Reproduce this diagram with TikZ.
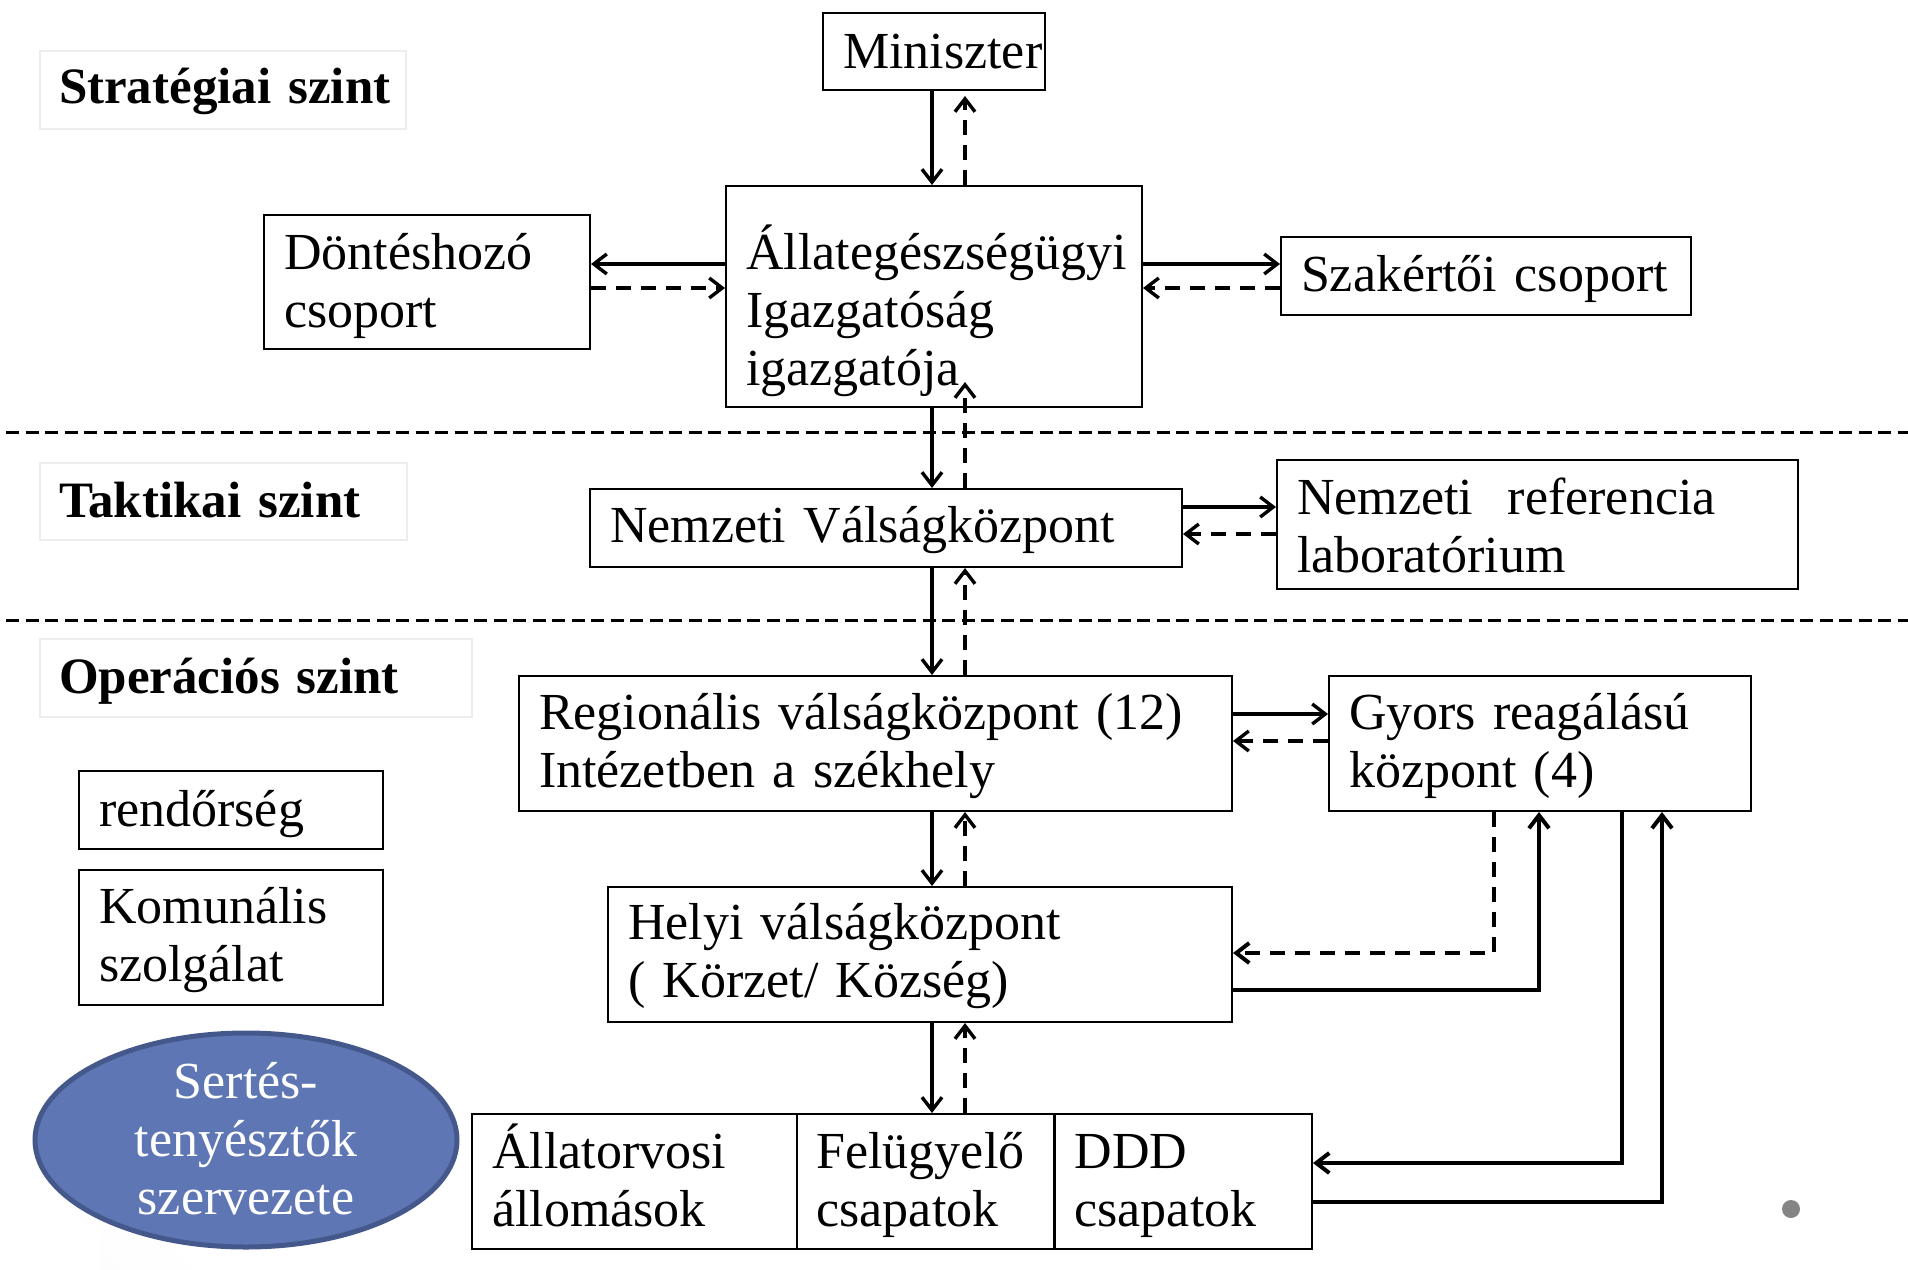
\documentclass[tikz,border=0pt]{standalone}
\usepackage{fontspec}
\setmainfont{Liberation Serif}
\usetikzlibrary{arrows.meta,shapes.geometric,calc}
\pgfdeclareradialshading{bgshade}{\pgfpoint{0bp}{0bp}}{color(0bp)=(white); color(30bp)=(white); color(40bp)=(black!3); color(48bp)=(black!9); color(53bp)=(black!14); color(70bp)=(black!20)}
\definecolor{ellfill}{HTML}{5F76B4}
\definecolor{elldraw}{HTML}{44588C}
\definecolor{dotgray}{HTML}{848484}
\begin{document}
\begin{tikzpicture}[x=1pt,y=-1pt,
  box/.style={draw=black, line width=2pt, anchor=north west, align=left, inner xsep=20pt, inner ysep=0pt, font=\fontsize{52}{58}\selectfont},
  lbl/.style={draw=black!7, fill=white, fill opacity=0.6, text opacity=1, line width=2pt, anchor=north west, align=left, inner xsep=19pt, inner ysep=0pt, font=\fontsize{51}{58}\selectfont\bfseries},
  sol/.style={line width=3.4pt, -{Straight Barb[length=13pt,width=20pt]}},
  dsh/.style={sol, dash pattern=on 15pt off 10pt},
  thick sol/.style={sol, line width=4pt},
  thick dsh/.style={dsh, line width=4pt},
  divline/.style={line width=3pt, dash pattern=on 13pt off 6.5pt},
  ell/.style={ellipse, draw=elldraw, fill=ellfill, line width=5pt, minimum width=422pt, minimum height=214pt, inner sep=0pt, text=white, align=center, text width=260pt, font=\fontsize{52}{58}\selectfont, text height=30pt, text depth=114pt}
]
\useasboundingbox (0,0) rectangle (1908,1269);
% background
\begin{scope}
  \clip (0,0) rectangle (1908,1269);
  \fill[white] (0,0) rectangle (1908,1269);
  \shade[shading=bgshade] (100,-550) rectangle (2300,1450);
  \fill[white] (0,0) rectangle (6,1269);
\end{scope}

% level separators
\draw[divline] (6,432) -- (1908,432);
\draw[divline] (6,620) -- (1908,620);

% level labels
\node[lbl, text width=328pt, minimum height=78pt, text height=37pt, text depth=11pt] (strat) at (39,50) {\mbox{Stratégiai szint}};
\node[lbl, text width=329pt, minimum height=77pt, text height=42pt, text depth=11pt] (takt) at (39,462) {\mbox{Taktikai szint}};
\node[lbl, text width=394pt, minimum height=78pt, text height=41pt, text depth=11pt] (oper) at (39,638) {\mbox{Operációs szint}};

% boxes
\node[box, text width=182pt, minimum height=77pt, text height=44pt, text depth=11pt] (mini) at (822,12) {\mbox{Miniszter}};
\node[box, text width=286pt, minimum height=134pt, text height=43pt, text depth=69pt] (dont) at (263,214) {Döntéshozó\\csoport};
\node[box, text width=376pt, minimum height=221pt, text height=72pt, text depth=127pt] (allat) at (725,185) {\mbox{Állategészségügyi}\\Igazgatóság\\igazgatója};
\node[box, text width=370pt, minimum height=78pt, text height=41pt, text depth=11pt] (szak) at (1280,236) {\mbox{Szakértői csoport}};
\node[box, text width=552pt, minimum height=78pt, text height=39pt, text depth=11pt] (nvk) at (589,488) {\mbox{Nemzeti Válságközpont}};
\node[box, text width=481pt, minimum height=129pt, text height=48pt, text depth=69pt] (nrl) at (1276,459) {\mbox{Nemzeti\ \ referencia}\\laboratórium};
\node[box, text width=673pt, minimum height=135pt, text height=40pt, text depth=69pt] (reg) at (518,675) {\mbox{Regionális válságközpont (12)}\\\mbox{Intézetben a székhely}};
\node[box, text width=382pt, minimum height=135pt, text height=40pt, text depth=69pt] (gyors) at (1328,675) {\mbox{Gyors reagálású}\\központ (4)};
\node[box, text width=584pt, minimum height=135pt, text height=38pt, text depth=69pt] (helyi) at (607,886) {\mbox{Helyi válságközpont}\\( Körzet/ Község)};
\node[box, text width=264pt, minimum height=78pt, text height=43pt, text depth=11pt] (rend) at (78,770) {rendőrség};
\node[box, text width=264pt, minimum height=135pt, text height=40pt, text depth=69pt] (komm) at (78,869) {Komunális\\szolgálat};
\node[box, text width=285pt, minimum height=135pt, text height=42pt, text depth=69pt] (allo) at (471,1113) {Állatorvosi\\állomások};
\node[box, text width=218pt, minimum height=135pt, text height=42pt, text depth=69pt, inner xsep=19.5pt] (felu) at (796,1113) {\mbox{Felügyelő}\\csapatok};
\node[box, text width=218pt, minimum height=135pt, text height=42pt, text depth=69pt, inner xsep=19.5pt] (ddd) at (1054,1113) {DDD\\csapatok};

% ellipse
\node[ell] (sert) at (246,1140) {Sertés-\\tenyésztők\\szervezete};

% slide bullet
\fill[dotgray] (1791,1209) circle[radius=9];

% helper coordinates
\coordinate (xa) at (932,0);
\coordinate (xb) at (965,0);
\coordinate (ya) at (0,264);
\coordinate (yb) at (0,288);
\coordinate (yc) at (0,507);
\coordinate (yd) at (0,534);
\coordinate (ye) at (0,714);
\coordinate (yf) at (0,741);
\coordinate (c1) at (1494,953);
\coordinate (c2) at (1539,990);
\coordinate (c3) at (1622,1163);
\coordinate (c4) at (1662,1202);

% vertical chain
\draw[sol] (xa |- mini.south) -- (xa |- allat.north);
\draw[dsh] (xb |- allat.north) -- ($(xb |- mini.south)+(0,5)$);
\draw[sol] (xa |- allat.south) -- (xa |- nvk.north);
\draw[dsh] (xb |- nvk.north) -- ($(xb |- allat.south)+(0,-26)$);
\draw[sol] (xa |- nvk.south) -- (xa |- reg.north);
\draw[dsh] (xb |- reg.north) -- (xb |- nvk.south);
\draw[sol] (xa |- reg.south) -- (xa |- helyi.north);
\draw[dsh] (xb |- helyi.north) -- (xb |- reg.south);
\draw[sol] (xa |- helyi.south) -- (xa |- felu.north);
\draw[dsh] (xb |- felu.north) -- (xb |- helyi.south);

% horizontal pairs
\draw[sol] (allat.west |- ya) -- (dont.east |- ya);
\draw[dsh] (dont.east |- yb) -- (allat.west |- yb);
\draw[sol] (allat.east |- ya) -- (szak.west |- ya);
\draw[dsh] (szak.west |- yb) -- (allat.east |- yb);
\draw[sol] (nvk.east |- yc) -- (nrl.west |- yc);
\draw[dsh] (nrl.west |- yd) -- (nvk.east |- yd);
\draw[sol] (reg.east |- ye) -- (gyors.west |- ye);
\draw[dsh] (gyors.west |- yf) -- (reg.east |- yf);

% right side loops
\draw[thick dsh] (c1 |- gyors.south) -- (c1) -- (helyi.east |- c1);
\draw[thick sol] (helyi.east |- c2) -- (c2) -- (c2 |- gyors.south);
\draw[thick sol] (c3 |- gyors.south) -- (c3) -- (ddd.east |- c3);
\draw[thick sol] (ddd.east |- c4) -- (c4) -- (c4 |- gyors.south);
\end{tikzpicture}
\end{document}
